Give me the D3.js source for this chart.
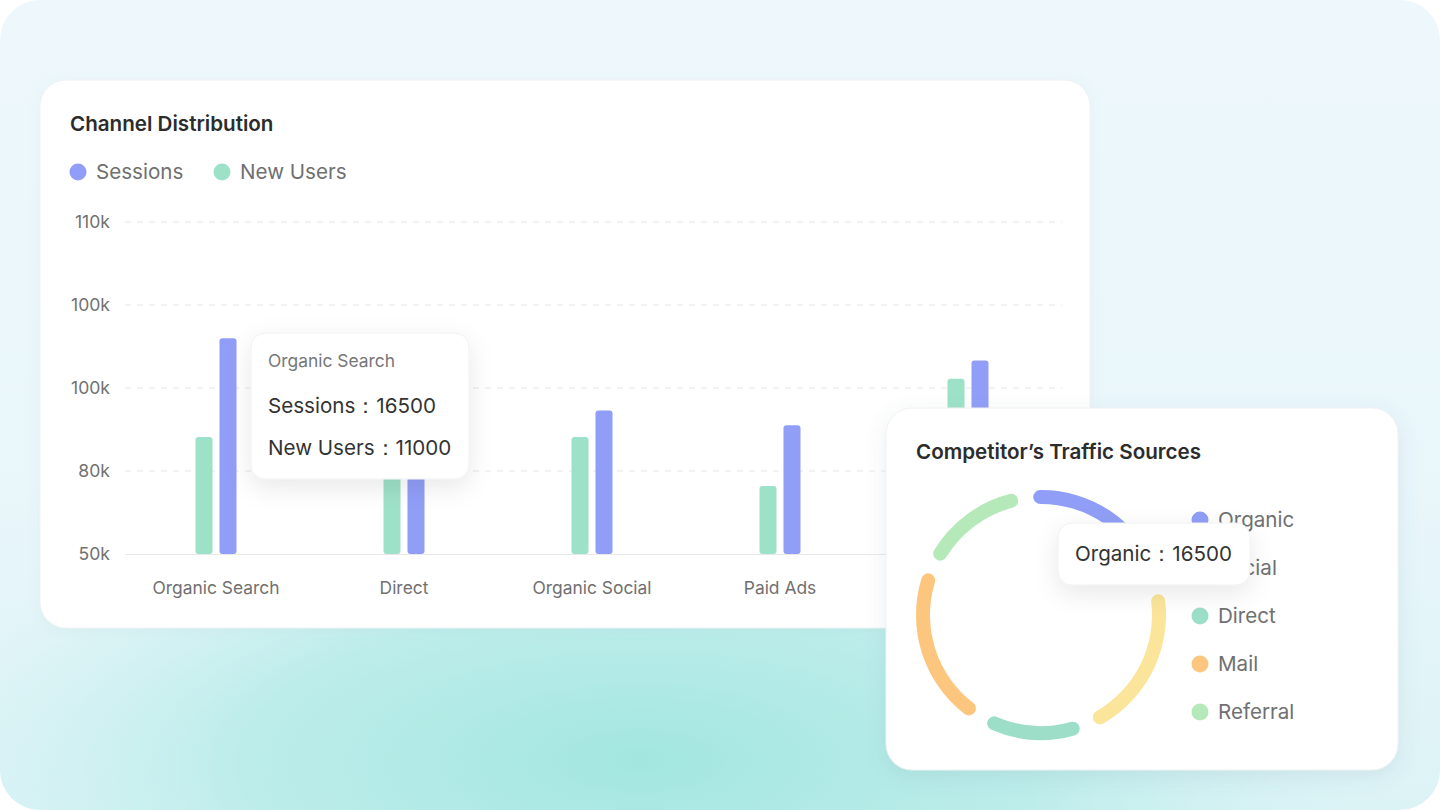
<!DOCTYPE html>
<html>
<head>
<meta charset="utf-8">
<script src="https://cdn.jsdelivr.net/npm/d3@7"></script>
<style>
  html, body { margin: 0; padding: 0; background: #ffffff; }
  svg { display: block; font-family: Inter, "Noto Sans", sans-serif; }
</style>
</head>
<body>
<svg id="chart" width="1440" height="810"></svg>
<script>
// ---------- data ----------
const categories = ["Organic Search", "Direct", "Organic Social", "Paid Ads", "Referral"];
const seriesNames = ["New Users", "Sessions"];
// values expressed in axis grid steps (axis labels are not linear)
const sessions = [2.60, 1.90, 1.73, 1.55, 2.33];
const newUsers = [1.41, 1.55, 1.41, 0.82, 2.11];
const yTickValues = [0, 1, 2, 3, 4];
const yTickLabels = ["50k", "80k", "100k", "100k", "110k"];
const barTooltipTitle = "Organic Search";
const barTooltipLines = ["Sessions：16500", "New Users：11000"];

const sourceNames = ["Organic", "Social", "Direct", "Mail", "Referral"];
const sourceValues = [16500, 16000, 10500, 16500, 11500];
const donutTooltip = "Organic：16500";

// ---------- colours ----------
const barColors = { "Sessions": "#919ef7", "New Users": "#9ee1c9" };
const sourceColors = ["#919ef7", "#fbe59b", "#9ddec8", "#fdc67f", "#b6e9b9"];

const svg = d3.select("#chart");
const defs = svg.append("defs");

// background gradients
const lg = defs.append("linearGradient").attr("id", "bgLin").attr("x1", 0).attr("y1", 0).attr("x2", 0).attr("y2", 1);
lg.append("stop").attr("offset", "0%").attr("stop-color", "#eef8fc");
lg.append("stop").attr("offset", "60%").attr("stop-color", "#e9f6fa");
lg.append("stop").attr("offset", "100%").attr("stop-color", "#dcf3f6");
const rg = defs.append("radialGradient").attr("id", "bgRad")
  .attr("gradientUnits", "userSpaceOnUse").attr("cx", 640).attr("cy", 760).attr("r", 520)
  .attr("gradientTransform", "translate(640,760) scale(1.4,0.55) translate(-640,-760)");
rg.append("stop").attr("offset", "0%").attr("stop-color", "#a2e6e0").attr("stop-opacity", 1);
rg.append("stop").attr("offset", "55%").attr("stop-color", "#b4ebe7").attr("stop-opacity", 0.8);
rg.append("stop").attr("offset", "100%").attr("stop-color", "#c8eff0").attr("stop-opacity", 0);

const shadow = defs.append("filter").attr("id", "shadow").attr("x", "-20%").attr("y", "-20%").attr("width", "140%").attr("height", "150%");
shadow.append("feDropShadow").attr("dx", 0).attr("dy", 6).attr("stdDeviation", 10).attr("flood-color", "#5a7a8a").attr("flood-opacity", 0.12);
const shadowSoft = defs.append("filter").attr("id", "shadowSoft").attr("x", "-10%").attr("y", "-10%").attr("width", "120%").attr("height", "130%");
shadowSoft.append("feDropShadow").attr("dx", 0).attr("dy", 2).attr("stdDeviation", 6).attr("flood-color", "#6a8a9a").attr("flood-opacity", 0.07);
const tipShadow = defs.append("filter").attr("id", "tipShadow").attr("x", "-30%").attr("y", "-30%").attr("width", "160%").attr("height", "180%");
tipShadow.append("feDropShadow").attr("dx", 0).attr("dy", 8).attr("stdDeviation", 12).attr("flood-color", "#000").attr("flood-opacity", 0.09);

svg.append("rect").attr("width", 1440).attr("height", 810).attr("rx", 40).attr("fill", "url(#bgLin)");
svg.append("rect").attr("width", 1440).attr("height", 810).attr("rx", 40).attr("fill", "url(#bgRad)");

// ---------- card 1 : bar chart ----------
svg.append("rect").attr("x", 40).attr("y", 80).attr("width", 1050).attr("height", 548).attr("rx", 26)
  .attr("fill", "#fff").attr("stroke", "#eef2f4").attr("filter", "url(#shadowSoft)");

svg.append("text").attr("x", 70).attr("y", 131).attr("font-size", 20.6).attr("font-weight", 600)
  .attr("fill", "#2c2c2c").text("Channel Distribution");

const legendItems = [{ name: "Sessions", x: 78 }, { name: "New Users", x: 222 }];
const lgG = svg.append("g");
lgG.selectAll("circle").data(legendItems).join("circle")
  .attr("cx", d => d.x).attr("cy", 172).attr("r", 8.5).attr("fill", d => barColors[d.name]);
lgG.selectAll("text").data(legendItems).join("text")
  .attr("x", d => d.x + 18).attr("y", 179).attr("font-size", 20.6).attr("fill", "#707070").text(d => d.name);

const x0 = d3.scaleBand().domain(categories).range([122, 1062]);
const y = d3.scaleLinear().domain([0, 4]).range([554, 222]);

// grid + y axis
const yAxis = d3.axisLeft(y).tickValues(yTickValues).tickFormat((d, i) => yTickLabels[i]).tickSize(0).tickPadding(14);
const yG = svg.append("g").attr("transform", "translate(124,0)").call(yAxis);
yG.select(".domain").remove();
yG.selectAll("text").attr("font-size", 17.6).attr("fill", "#707070").attr("font-family", "Inter, sans-serif");
svg.append("g").selectAll("line").data(yTickValues.filter(d => d > 0)).join("line")
  .attr("x1", 125).attr("x2", 1062).attr("y1", d => y(d)).attr("y2", d => y(d))
  .attr("stroke", "#e6e6e6").attr("stroke-dasharray", "6,6");

// bars
const x1 = d3.scaleBand().domain(seriesNames).range([-20.5, 20.5]).paddingInner(0.29);
const barData = [];
categories.forEach((c, i) => {
  barData.push({ cat: c, s: "New Users", v: newUsers[i] });
  barData.push({ cat: c, s: "Sessions", v: sessions[i] });
});
svg.append("g").selectAll("path").data(barData).join("path")
  .attr("fill", d => barColors[d.s])
  .attr("d", d => {
    const bx = x0(d.cat) + x0.bandwidth() / 2 + x1(d.s);
    const w = x1.bandwidth();
    const top = y(d.v), bot = y(0);
    const r = 3;
    return `M${bx},${bot - r} L${bx},${top + r} Q${bx},${top} ${bx + r},${top} L${bx + w - r},${top} Q${bx + w},${top} ${bx + w},${top + r} L${bx + w},${bot - r} Q${bx + w},${bot} ${bx + w - r},${bot} L${bx + r},${bot} Q${bx},${bot} ${bx},${bot - r} Z`;
  });

// x axis
svg.append("line").attr("x1", 125).attr("x2", 1062).attr("y1", y(0) + 0.5).attr("y2", y(0) + 0.5).attr("stroke", "#e8e8e8");
const xAxis = d3.axisBottom(x0).tickSize(0).tickPadding(28);
const xG = svg.append("g").attr("transform", `translate(0,${y(0)})`).call(xAxis);
xG.select(".domain").remove();
xG.selectAll("text").attr("font-size", 17.4).attr("fill", "#707070").attr("font-family", "Inter, sans-serif");

// bar tooltip
const tip = svg.append("g");
tip.append("rect").attr("x", 251).attr("y", 333).attr("width", 218).attr("height", 146).attr("rx", 14)
  .attr("fill", "#fff").attr("stroke", "#f0f0f0").attr("filter", "url(#tipShadow)");
tip.append("text").attr("x", 268).attr("y", 367).attr("font-size", 17.4).attr("fill", "#777").text(barTooltipTitle);
tip.selectAll("text.line").data(barTooltipLines).join("text").attr("class", "line")
  .attr("x", 268).attr("y", (d, i) => 413 + i * 42).attr("font-size", 20.6).attr("fill", "#333").text(d => d);

// ---------- card 2 : donut ----------
svg.append("rect").attr("x", 886).attr("y", 408).attr("width", 512).attr("height", 362).attr("rx", 26)
  .attr("fill", "#fff").attr("stroke", "#eef1f3").attr("filter", "url(#shadow)");
svg.append("text").attr("x", 916).attr("y", 459).attr("font-size", 20.6).attr("font-weight", 600)
  .attr("fill", "#2c2c2c").text("Competitor’s Traffic Sources");

const startA = -7.5 * Math.PI / 180;
const pie = d3.pie().sort(null).startAngle(startA).endAngle(startA + 2 * Math.PI);
const arcs = pie(sourceValues);
const arc = d3.arc().innerRadius(111).outerRadius(125).cornerRadius(7).padAngle(0.13).padRadius(118);
svg.append("g").attr("transform", "translate(1041,615)")
  .selectAll("path").data(arcs).join("path")
  .attr("d", arc).attr("fill", (d, i) => sourceColors[i]);

const dl = svg.append("g");
dl.selectAll("circle").data(sourceNames).join("circle")
  .attr("cx", 1200).attr("cy", (d, i) => 520 + i * 48).attr("r", 8.5).attr("fill", (d, i) => sourceColors[i]);
dl.selectAll("text").data(sourceNames).join("text")
  .attr("x", 1218).attr("y", (d, i) => 527 + i * 48).attr("font-size", 20.6).attr("fill", "#707070").text(d => d);

const tip2 = svg.append("g");
tip2.append("rect").attr("x", 1058).attr("y", 523).attr("width", 192).attr("height", 62).attr("rx", 14)
  .attr("fill", "#fff").attr("stroke", "#f0f0f0").attr("filter", "url(#tipShadow)");
tip2.append("text").attr("x", 1075).attr("y", 561).attr("font-size", 20.6).attr("fill", "#333").text(donutTooltip);
</script>
</body>
</html>
